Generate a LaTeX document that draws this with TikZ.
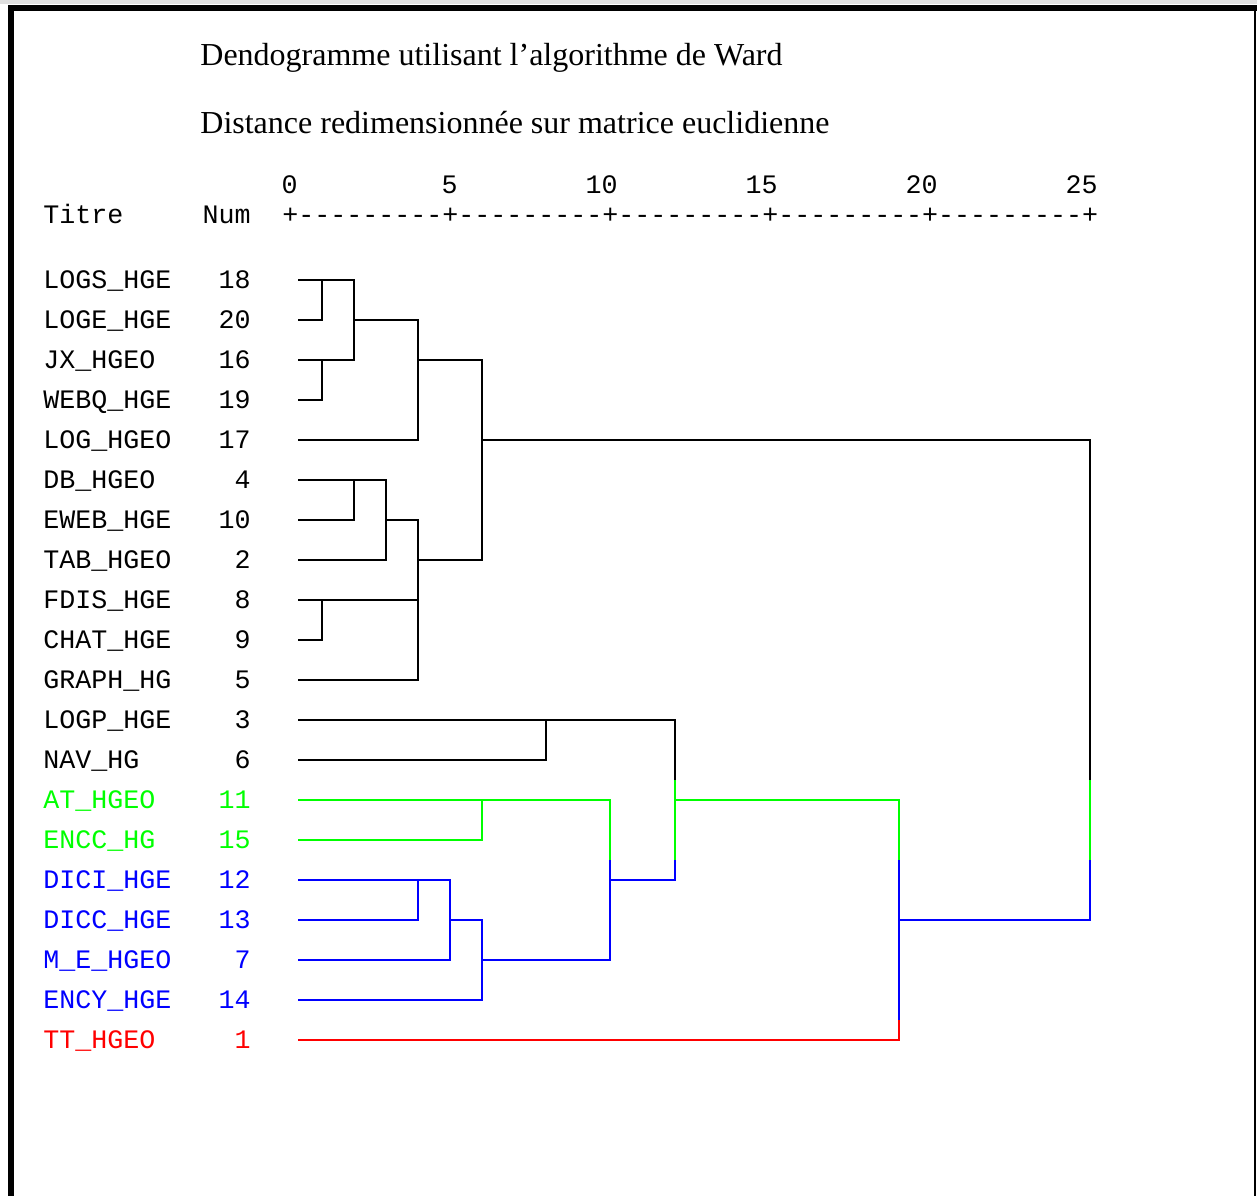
\documentclass[tikz,border=0pt]{standalone}
\usepackage{fontspec}
\setmainfont{Liberation Serif}
\setmonofont{Liberation Mono}
\usepackage{tikz}
\definecolor{SPSSGreen}{HTML}{00FF00}
\definecolor{SPSSBlue}{HTML}{0000FF}
\definecolor{SPSSRed}{HTML}{FF0000}
\newcommand{\drawname}{\node[anchor=base west,inner sep=0]}
\newcommand{\drawnum}{\node[anchor=base east,inner sep=0]}
\tikzset{branch/.style={line width=1pt}}

\begin{document}
\begin{tikzpicture}[x=0.5pt,y=-0.5pt,
  every node/.style={font=\ttfamily\fontsize{13.33pt}{16pt}\selectfont}]
\useasboundingbox (0,0) rectangle (1257,1196);
%frame
\fill[gray!25] (0,0) rectangle (1257,4);
\fill[black] (8,5) rectangle (1257,11);
\fill[black] (8,5) rectangle (14,1196);
\fill[black] (1254,5) rectangle (1256,1196);

%titles
\node[anchor=base west,inner sep=0,font=\rmfamily\fontsize{16pt}{19pt}\selectfont] (title) at (200,65)
  {Dendogramme utilisant l’algorithme de Ward};
\node[anchor=base west,inner sep=0,font=\rmfamily\fontsize{16pt}{19pt}\selectfont] (subtitle) at (200,133)
  {Distance redimensionnée sur matrice euclidienne};

%scale
\foreach \v [count=\k from 0] in {0,5,10,15,20,25}
  \drawnum (tick\v) at ({298+160*\k},193) {\v};
\drawname (titre) at (43,223) {Titre};
\drawnum (numhead) at (251,223) {Num};
\drawname (axis) at (282,223) {+---------+---------+---------+---------+---------+};

%labels and leaves
\foreach \nm/\num/\col [count=\i from 0] in {
  LOGS\_HGE/18/black, LOGE\_HGE/20/black, JX\_HGEO/16/black, WEBQ\_HGE/19/black,
  LOG\_HGEO/17/black, DB\_HGEO/4/black, EWEB\_HGE/10/black, TAB\_HGEO/2/black,
  FDIS\_HGE/8/black, CHAT\_HGE/9/black, GRAPH\_HG/5/black, LOGP\_HGE/3/black,
  NAV\_HG/6/black, AT\_HGEO/11/SPSSGreen, ENCC\_HG/15/SPSSGreen,
  DICI\_HGE/12/SPSSBlue, DICC\_HGE/13/SPSSBlue, M\_E\_HGEO/7/SPSSBlue,
  ENCY\_HGE/14/SPSSBlue, TT\_HGEO/1/SPSSRed}
{
  \drawname[text=\col] (name\num) at (43,{288+40*\i}) {\nm};
  \drawnum[text=\col] (num\num) at (251,{288+40*\i}) {\num};
  \coordinate (r\num) at (298,{280+40*\i});
}

%black branches
\draw[branch] (r18) -| (354,360) -- (r16);
\draw[branch] (r20) -| (322,280);
\draw[branch] (r19) -| (322,360);
\draw[branch] (354,320) -| (418,440) -- (r17);
\draw[branch] (418,360) -| (482,560) -- (418,560);
\draw[branch] (r4) -| (386,560) -- (r2);
\draw[branch] (r10) -| (354,480);
\draw[branch] (386,520) -| (418,680) -- (r5);
\draw[branch] (r8) -- (418,600);
\draw[branch] (r9) -| (322,600);
\draw[branch] (482,440) -| (1090,780);
\draw[branch] (r3) -| (675,780);
\draw[branch] (r6) -| (546,720);

%green branches
\draw[branch,SPSSGreen] (1090,780) -- (1090,860);
\draw[branch,SPSSGreen] (675,780) -- (675,860);
\draw[branch,SPSSGreen] (675,800) -| (899,860);
\draw[branch,SPSSGreen] (r11) -| (610,860);
\draw[branch,SPSSGreen] (r15) -| (482,800);

%blue branches
\draw[branch,SPSSBlue] (1090,860) |- (899,920);
\draw[branch,SPSSBlue] (899,860) -- (899,1020);
\draw[branch,SPSSBlue] (675,860) |- (610,880);
\draw[branch,SPSSBlue] (610,860) |- (482,960);
\draw[branch,SPSSBlue] (r12) -| (450,960) -- (r7);
\draw[branch,SPSSBlue] (r13) -| (418,880);
\draw[branch,SPSSBlue] (450,920) -| (482,1000) -- (r14);

%red branch
\draw[branch,SPSSRed] (r1) -| (899,1020);

\end{tikzpicture}
\end{document}
